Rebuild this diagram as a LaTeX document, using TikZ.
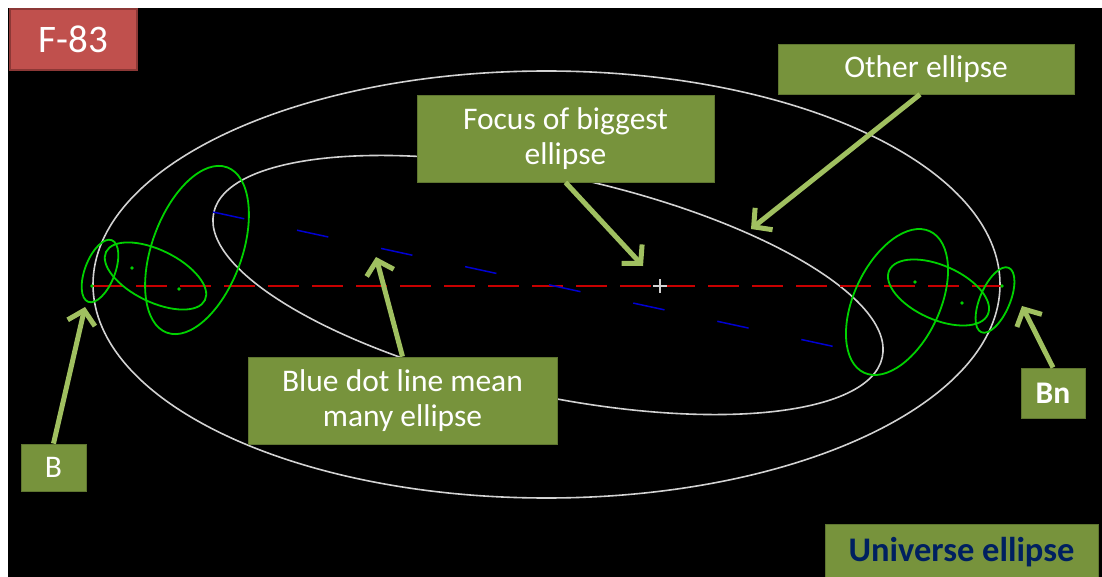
\documentclass[tikz,border=0pt]{standalone}
\usepackage{fontspec}
\setmainfont{Carlito}
\usepackage{tikz}
\usetikzlibrary{arrows.meta, positioning}
\definecolor{boxgreen}{RGB}{119,147,60}
\definecolor{arrowgreen}{RGB}{160,192,96}
\definecolor{titlered}{RGB}{192,80,77}
\definecolor{titleedge}{RGB}{140,56,54}
\definecolor{navytext}{RGB}{0,32,96}
\definecolor{orbitgreen}{RGB}{0,210,0}
\definecolor{axisred}{RGB}{200,0,0}
\definecolor{axisblue}{RGB}{0,0,210}
\definecolor{orbitwhite}{RGB}{210,210,210}

\begin{document}
\begin{tikzpicture}[x=1pt,y=-1pt,
 box/.style={rectangle,draw=boxgreen!80!black,line width=0.8pt,fill=boxgreen,
   text=white,align=center,inner sep=0pt,font=\fontsize{31.5}{35}\selectfont},
 pointer/.style={draw=arrowgreen,line width=5pt,
   -{Straight Barb[length=13pt,width=28pt]}},
 orbit/.style={draw=orbitgreen,line width=1.8pt},
 bigorbit/.style={draw=orbitwhite,line width=1.6pt}]
 \useasboundingbox (0,0) rectangle (1102,577);
 \fill[white] (0,0) rectangle (1102,577);
 \fill[black] (8,8) rectangle (1102,577);

 \draw[bigorbit] (546.5,284.5) ellipse [x radius=453.5, y radius=213.5];
 \draw[bigorbit,rotate around={-12.2:(548,285)}] (548,285)
   ellipse [x radius=342, y radius=110];

 \draw[axisred,line width=1.6pt,dash pattern=on 31pt off 13pt] (92,286) -- (1002,286);
 \draw[axisblue,line width=1.5pt,dash pattern=on 32pt off 54pt] (213,212) -- (882,357);
 \draw[orbitwhite,line width=1.5pt] (653,286) -- (667,286) (660,279) -- (660,293);

 \draw[orbit,rotate around={69:(100,271)}] (100,271) ellipse [x radius=33, y radius=15];
 \draw[orbit,rotate around={-26:(155.5,276)}] (155.5,276) ellipse [x radius=55, y radius=26];
 \draw[orbit,rotate around={70:(197,250)}] (197,250) ellipse [x radius=88, y radius=45];
 \draw[orbit,rotate around={65:(897,302)}] (897,302) ellipse [x radius=78, y radius=43];
 \draw[orbit,rotate around={-24:(938.5,292.5)}] (938.5,292.5) ellipse [x radius=54, y radius=27];
 \draw[orbit,rotate around={67:(995,300)}] (995,300) ellipse [x radius=35, y radius=15];
 \foreach \p in {(92,286),(132,268),(179,289),(915,282),(962,303),(1002,286)}
   \fill[orbitgreen] \p circle [radius=1.8];

 \node[rectangle,draw=titleedge,line width=2pt,fill=titlered,text=white,
   minimum width=127pt,minimum height=61pt,inner sep=0pt,
   font=\fontsize{39}{44}\selectfont] (title) at (73.5,39.5) {F-83};
 \node[box,minimum width=297pt,minimum height=87pt] (focus) at (565.5,138.5)
   {Focus of biggest\\ellipse};
 \node[box,minimum width=296pt,minimum height=50pt] (other) at (926,69)
   {Other ellipse};
 \node[box,minimum width=309pt,minimum height=87pt] (blueline) at (402.5,400.5)
   {Blue dot line mean\\many ellipse};
 \node[box,minimum width=65pt,minimum height=47pt] (bstart) at (53.5,467.5) {B};
 \node[box,minimum width=64pt,minimum height=50pt,
   font=\fontsize{31.5}{35}\selectfont\bfseries] (bend) at (1053,393) {Bn};
 \node[box,minimum width=273pt,minimum height=56pt,text=navytext,
   font=\fontsize{34.5}{38}\selectfont\bfseries] (universe) at (961.5,552) {Universe ellipse};

 \coordinate (focuspt) at (643,266);
 \coordinate (otherpt) at (751,229);
 \coordinate (bluept) at (376,257);
 \coordinate (bstartpt) at (85,307);
 \coordinate (bendpt) at (1022,306);
 \draw[pointer] (focus.south) -- (focuspt);
 \draw[pointer] ([xshift=-6pt]other.south) -- (otherpt);
 \draw[pointer] (blueline.north) -- (bluept);
 \draw[pointer] (bstart.north) -- (bstartpt);
 \draw[pointer] (bend.north) -- (bendpt);
\end{tikzpicture}
\end{document}
